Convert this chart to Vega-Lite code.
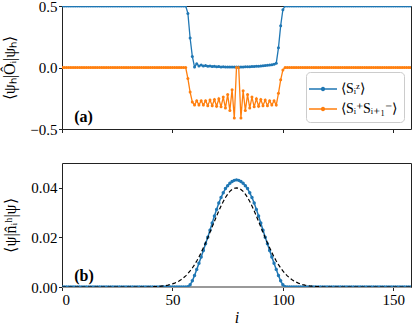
{
"$schema": "https://vega.github.io/schema/vega-lite/v6.json",
"padding": {"left": 1, "right": 1, "top": -2, "bottom": 0},
"background": "white",
"config": {
  "font": "Liberation Serif",
  "view": {"stroke": "#222", "strokeWidth": 1},
  "axis": {"labelFont": "Liberation Serif", "labelFontSize": 15, "labelColor": "black", "titleFont": "Liberation Serif", "titleFontSize": 16, "titleFontWeight": "normal", "titleColor": "black", "tickColor": "#222", "tickSize": 3.5, "domain": false, "grid": false, "labelPadding": 1.5},
  "concat": {"spacing": 24}
},
"datasets": {"d": [
{"i":0,"sz":0.5,"pm":0,"nh":0,"g":0},{"i":1,"sz":0.5,"pm":0,"nh":0,"g":0},{"i":2,"sz":0.5,"pm":0,"nh":0,"g":0},{"i":3,"sz":0.5,"pm":0,"nh":0,"g":0},{"i":4,"sz":0.5,"pm":0,"nh":0,"g":0},{"i":5,"sz":0.5,"pm":0,"nh":0,"g":0},{"i":6,"sz":0.5,"pm":0,"nh":0,"g":0},{"i":7,"sz":0.5,"pm":0,"nh":0,"g":0},{"i":8,"sz":0.5,"pm":0,"nh":0,"g":0},{"i":9,"sz":0.5,"pm":0,"nh":0,"g":0},
{"i":10,"sz":0.5,"pm":0,"nh":0,"g":0},{"i":11,"sz":0.5,"pm":0,"nh":0,"g":0},{"i":12,"sz":0.5,"pm":0,"nh":0,"g":0},{"i":13,"sz":0.5,"pm":0,"nh":0,"g":0},{"i":14,"sz":0.5,"pm":0,"nh":0,"g":0},{"i":15,"sz":0.5,"pm":0,"nh":0,"g":0},{"i":16,"sz":0.5,"pm":0,"nh":0,"g":0},{"i":17,"sz":0.5,"pm":0,"nh":0,"g":0},{"i":18,"sz":0.5,"pm":0,"nh":0,"g":0},{"i":19,"sz":0.5,"pm":0,"nh":0,"g":0},
{"i":20,"sz":0.5,"pm":0,"nh":0,"g":0},{"i":21,"sz":0.5,"pm":0,"nh":0,"g":0},{"i":22,"sz":0.5,"pm":0,"nh":0,"g":0},{"i":23,"sz":0.5,"pm":0,"nh":0,"g":0},{"i":24,"sz":0.5,"pm":0,"nh":0,"g":0},{"i":25,"sz":0.5,"pm":0,"nh":0,"g":0},{"i":26,"sz":0.5,"pm":0,"nh":0,"g":0},{"i":27,"sz":0.5,"pm":0,"nh":0,"g":0},{"i":28,"sz":0.5,"pm":0,"nh":0,"g":0},{"i":29,"sz":0.5,"pm":0,"nh":0,"g":0},
{"i":30,"sz":0.5,"pm":0,"nh":0,"g":0},{"i":31,"sz":0.5,"pm":0,"nh":0,"g":0},{"i":32,"sz":0.5,"pm":0,"nh":0,"g":0},{"i":33,"sz":0.5,"pm":0,"nh":0,"g":0},{"i":34,"sz":0.5,"pm":0,"nh":0,"g":0},{"i":35,"sz":0.5,"pm":0,"nh":0,"g":0},{"i":36,"sz":0.5,"pm":0,"nh":0,"g":0},{"i":37,"sz":0.5,"pm":0,"nh":0,"g":0},{"i":38,"sz":0.5,"pm":0,"nh":0,"g":0},{"i":39,"sz":0.5,"pm":0,"nh":0,"g":0},
{"i":40,"sz":0.5,"pm":0,"nh":0,"g":0},{"i":41,"sz":0.5,"pm":0,"nh":0,"g":0.0001},{"i":42,"sz":0.5,"pm":0,"nh":0,"g":0.00014},{"i":43,"sz":0.5,"pm":0,"nh":0,"g":0.00019},{"i":44,"sz":0.5,"pm":0,"nh":0,"g":0.00025},{"i":45,"sz":0.5,"pm":0,"nh":0,"g":0.00034},{"i":46,"sz":0.5,"pm":0,"nh":0,"g":0.00044},{"i":47,"sz":0.5,"pm":0,"nh":0,"g":0.00058},{"i":48,"sz":0.5,"pm":0,"nh":0,"g":0.00075},{"i":49,"sz":0.5,"pm":0,"nh":0,"g":0.00097},
{"i":50,"sz":0.5,"pm":0,"nh":0,"g":0.00124},{"i":51,"sz":0.5,"pm":0,"nh":0,"g":0.00157},{"i":52,"sz":0.5,"pm":0,"nh":0,"g":0.00197},{"i":53,"sz":0.5,"pm":0,"nh":0,"g":0.00245},{"i":54,"sz":0.5,"pm":0,"nh":0,"g":0.00302},{"i":55,"sz":0.5,"pm":0,"nh":0,"g":0.0037},{"i":56,"sz":0.5,"pm":0,"nh":0,"g":0.00449},
{"i":57,"sz":0.44,"pm":-0.09,"nh":0.0001,"g":0.00541},{"i":58,"sz":0.24,"pm":-0.2,"nh":0.0009,"g":0.00647},{"i":59,"sz":0.09,"pm":-0.28,"nh":0.0025,"g":0.00766},
{"i":60,"sz":0.005,"pm":-0.305,"nh":0.0046,"g":0.009},{"i":61,"sz":0.03,"pm":-0.27,"nh":0.0071,"g":0.01049},{"i":62,"sz":0.012,"pm":-0.305,"nh":0.0096,"g":0.01212},{"i":63,"sz":0.02,"pm":-0.27,"nh":0.0121,"g":0.01389},{"i":64,"sz":0.012,"pm":-0.305,"nh":0.0147,"g":0.01579},{"i":65,"sz":0.016,"pm":-0.27,"nh":0.0174,"g":0.01779},{"i":66,"sz":0.01,"pm":-0.31,"nh":0.0201,"g":0.0199},{"i":67,"sz":0.013,"pm":-0.265,"nh":0.0229,"g":0.02206},{"i":68,"sz":0.008,"pm":-0.31,"nh":0.0258,"g":0.02426},{"i":69,"sz":0.01,"pm":-0.26,"nh":0.0286,"g":0.02646},
{"i":70,"sz":0.006,"pm":-0.315,"nh":0.0313,"g":0.02862},{"i":71,"sz":0.008,"pm":-0.255,"nh":0.0339,"g":0.03071},{"i":72,"sz":0.005,"pm":-0.32,"nh":0.0361,"g":0.03267},{"i":73,"sz":0.006,"pm":-0.24,"nh":0.038,"g":0.03447},{"i":74,"sz":0.004,"pm":-0.33,"nh":0.0397,"g":0.03607},{"i":75,"sz":0.005,"pm":-0.22,"nh":0.0408,"g":0.03744},{"i":76,"sz":0.004,"pm":-0.35,"nh":0.0418,"g":0.03854},{"i":77,"sz":0.004,"pm":-0.18,"nh":0.0425,"g":0.03934},{"i":78,"sz":0.004,"pm":-0.41,"nh":0.043,"g":0.03983},{"i":79,"sz":0.004,"pm":0,"nh":0.0432,"g":0.04},
{"i":80,"sz":0.004,"pm":0,"nh":0.043,"g":0.03983},{"i":81,"sz":0.005,"pm":-0.41,"nh":0.0425,"g":0.03934},{"i":82,"sz":0.005,"pm":-0.19,"nh":0.0418,"g":0.03854},{"i":83,"sz":0.006,"pm":-0.35,"nh":0.0408,"g":0.03744},{"i":84,"sz":0.006,"pm":-0.22,"nh":0.0397,"g":0.03607},{"i":85,"sz":0.007,"pm":-0.33,"nh":0.038,"g":0.03447},{"i":86,"sz":0.008,"pm":-0.24,"nh":0.0361,"g":0.03267},{"i":87,"sz":0.009,"pm":-0.32,"nh":0.0339,"g":0.03071},{"i":88,"sz":0.01,"pm":-0.255,"nh":0.0313,"g":0.02862},{"i":89,"sz":0.011,"pm":-0.315,"nh":0.0286,"g":0.02646},
{"i":90,"sz":0.012,"pm":-0.26,"nh":0.0258,"g":0.02426},{"i":91,"sz":0.014,"pm":-0.31,"nh":0.0229,"g":0.02206},{"i":92,"sz":0.016,"pm":-0.265,"nh":0.0201,"g":0.0199},{"i":93,"sz":0.018,"pm":-0.31,"nh":0.0174,"g":0.01779},{"i":94,"sz":0.02,"pm":-0.27,"nh":0.0147,"g":0.01579},{"i":95,"sz":0.023,"pm":-0.305,"nh":0.0121,"g":0.01389},{"i":96,"sz":0.027,"pm":-0.27,"nh":0.0096,"g":0.01212},{"i":97,"sz":0.035,"pm":-0.305,"nh":0.0071,"g":0.01049},{"i":98,"sz":0.16,"pm":-0.21,"nh":0.0046,"g":0.009},{"i":99,"sz":0.34,"pm":-0.1,"nh":0.0025,"g":0.00766},
{"i":100,"sz":0.47,"pm":-0.02,"nh":0.0009,"g":0.00647},{"i":101,"sz":0.5,"pm":0,"nh":0.0001,"g":0.00541},{"i":102,"sz":0.5,"pm":0,"nh":0,"g":0.00449},{"i":103,"sz":0.5,"pm":0,"nh":0,"g":0.0037},{"i":104,"sz":0.5,"pm":0,"nh":0,"g":0.00302},{"i":105,"sz":0.5,"pm":0,"nh":0,"g":0.00245},{"i":106,"sz":0.5,"pm":0,"nh":0,"g":0.00197},{"i":107,"sz":0.5,"pm":0,"nh":0,"g":0.00157},{"i":108,"sz":0.5,"pm":0,"nh":0,"g":0.00124},{"i":109,"sz":0.5,"pm":0,"nh":0,"g":0.00097},
{"i":110,"sz":0.5,"pm":0,"nh":0,"g":0.00075},{"i":111,"sz":0.5,"pm":0,"nh":0,"g":0.00058},{"i":112,"sz":0.5,"pm":0,"nh":0,"g":0.00044},{"i":113,"sz":0.5,"pm":0,"nh":0,"g":0.00034},{"i":114,"sz":0.5,"pm":0,"nh":0,"g":0.00025},{"i":115,"sz":0.5,"pm":0,"nh":0,"g":0.00019},{"i":116,"sz":0.5,"pm":0,"nh":0,"g":0.00014},{"i":117,"sz":0.5,"pm":0,"nh":0,"g":0.0001},{"i":118,"sz":0.5,"pm":0,"nh":0,"g":0},{"i":119,"sz":0.5,"pm":0,"nh":0,"g":0},
{"i":120,"sz":0.5,"pm":0,"nh":0,"g":0},{"i":121,"sz":0.5,"pm":0,"nh":0,"g":0},{"i":122,"sz":0.5,"pm":0,"nh":0,"g":0},{"i":123,"sz":0.5,"pm":0,"nh":0,"g":0},{"i":124,"sz":0.5,"pm":0,"nh":0,"g":0},{"i":125,"sz":0.5,"pm":0,"nh":0,"g":0},{"i":126,"sz":0.5,"pm":0,"nh":0,"g":0},{"i":127,"sz":0.5,"pm":0,"nh":0,"g":0},{"i":128,"sz":0.5,"pm":0,"nh":0,"g":0},{"i":129,"sz":0.5,"pm":0,"nh":0,"g":0},
{"i":130,"sz":0.5,"pm":0,"nh":0,"g":0},{"i":131,"sz":0.5,"pm":0,"nh":0,"g":0},{"i":132,"sz":0.5,"pm":0,"nh":0,"g":0},{"i":133,"sz":0.5,"pm":0,"nh":0,"g":0},{"i":134,"sz":0.5,"pm":0,"nh":0,"g":0},{"i":135,"sz":0.5,"pm":0,"nh":0,"g":0},{"i":136,"sz":0.5,"pm":0,"nh":0,"g":0},{"i":137,"sz":0.5,"pm":0,"nh":0,"g":0},{"i":138,"sz":0.5,"pm":0,"nh":0,"g":0},{"i":139,"sz":0.5,"pm":0,"nh":0,"g":0},
{"i":140,"sz":0.5,"pm":0,"nh":0,"g":0},{"i":141,"sz":0.5,"pm":0,"nh":0,"g":0},{"i":142,"sz":0.5,"pm":0,"nh":0,"g":0},{"i":143,"sz":0.5,"pm":0,"nh":0,"g":0},{"i":144,"sz":0.5,"pm":0,"nh":0,"g":0},{"i":145,"sz":0.5,"pm":0,"nh":0,"g":0},{"i":146,"sz":0.5,"pm":0,"nh":0,"g":0},{"i":147,"sz":0.5,"pm":0,"nh":0,"g":0},{"i":148,"sz":0.5,"pm":0,"nh":0,"g":0},{"i":149,"sz":0.5,"pm":0,"nh":0,"g":0},
{"i":150,"sz":0.5,"pm":0,"nh":0,"g":0},{"i":151,"sz":0.5,"pm":0,"nh":0,"g":0},{"i":152,"sz":0.5,"pm":0,"nh":0,"g":0},{"i":153,"sz":0.5,"pm":0,"nh":0,"g":0},{"i":154,"sz":0.5,"pm":0,"nh":0,"g":0},{"i":155,"sz":0.5,"pm":0,"nh":0,"g":0},{"i":156,"sz":0.5,"pm":0,"nh":0,"g":0},{"i":157,"sz":0.5,"pm":0,"nh":0,"g":0},{"i":158,"sz":0.5,"pm":0,"nh":0,"g":0}
]},
"resolve": {"scale": {"y": "independent", "color": "independent"}, "legend": {"color": "independent"}},
"vconcat": [
  {
    "width": 349, "height": 123,
    "layer": [
      {
        "data": {"name": "d"},
        "transform": [{"fold": ["sz", "pm"], "as": ["key", "val"]}],
        "mark": {"type": "line", "strokeWidth": 1.3, "clip": true, "point": {"filled": true, "size": 9}},
        "encoding": {
          "x": {"field": "i", "type": "quantitative", "scale": {"domain": [0, 158], "nice": false, "zero": false}, "axis": {"values": [0, 50, 100, 150], "labels": false, "title": null}},
          "y": {"field": "val", "type": "quantitative", "scale": {"domain": [-0.5, 0.5], "nice": false}, "axis": {"values": [-0.5, 0, 0.5], "format": ".1f", "title": "⟨ψₕ|Ôᵢ|ψₕ⟩", "titlePadding": 12}},
          "color": {"field": "key", "type": "nominal", "sort": ["sz", "pm"], "scale": {"domain": ["sz", "pm"], "range": ["#1f77b4", "#ff7f0e"]},
            "legend": {"title": null, "orient": "bottom-right", "offset": 7, "labelExpr": "datum.value == 'sz' ? '⟨Sᵢᶻ⟩' : '⟨Sᵢ⁺Sᵢ₊₁⁻⟩'", "symbolType": "M-1.4,0L1.4,0M-0.15,0A0.15,0.15,0,1,0,0.15,0A0.15,0.15,0,1,0,-0.15,0", "symbolSize": 400, "symbolStrokeWidth": 1.5, "fillColor": "white", "strokeColor": "#cccccc", "cornerRadius": 4, "padding": 6, "labelFont": "Liberation Serif", "labelFontSize": 14, "labelColor": "black", "rowPadding": 2, "labelOffset": 7}}
        }
      },
      {
        "data": {"values": [{}]},
        "mark": {"type": "text", "text": "(a)", "fontWeight": "bold", "fontSize": 16, "font": "Liberation Serif", "align": "left", "baseline": "middle"},
        "encoding": {"x": {"datum": 5.5}, "y": {"datum": -0.4}}
      }
    ]
  },
  {
    "width": 349, "height": 124,
    "layer": [
      {
        "data": {"values": [{}]},
        "mark": {"type": "rule", "color": "#999999", "strokeWidth": 2},
        "encoding": {"y": {"datum": 0}}
      },
      {
        "data": {"name": "d"},
        "mark": {"type": "line", "color": "#1f77b4", "strokeWidth": 1.5, "clip": true, "point": {"filled": true, "size": 12, "color": "#1f77b4"}},
        "encoding": {
          "x": {"field": "i", "type": "quantitative", "scale": {"domain": [0, 158], "nice": false, "zero": false}, "axis": {"values": [0, 50, 100, 150], "format": "d", "title": "i", "titleFontStyle": "italic", "titlePadding": 2}},
          "y": {"field": "nh", "type": "quantitative", "scale": {"domain": [0, 0.05], "nice": false}, "axis": {"values": [0, 0.02, 0.04], "format": ".2f", "title": "⟨ψ|n̂ᵢʰ|ψ⟩", "titlePadding": 12}}
        }
      },
      {
        "data": {"name": "d"},
        "mark": {"type": "line", "color": "black", "strokeDash": [4, 2.5], "strokeWidth": 1.2, "clip": true},
        "encoding": {
          "x": {"field": "i", "type": "quantitative"},
          "y": {"field": "g", "type": "quantitative"}
        }
      },
      {
        "data": {"values": [{}]},
        "mark": {"type": "text", "text": "(b)", "fontWeight": "bold", "fontSize": 16, "font": "Liberation Serif", "align": "left", "baseline": "middle"},
        "encoding": {"x": {"datum": 5.5}, "y": {"datum": 0.0045}}
      }
    ]
  }
]
}
